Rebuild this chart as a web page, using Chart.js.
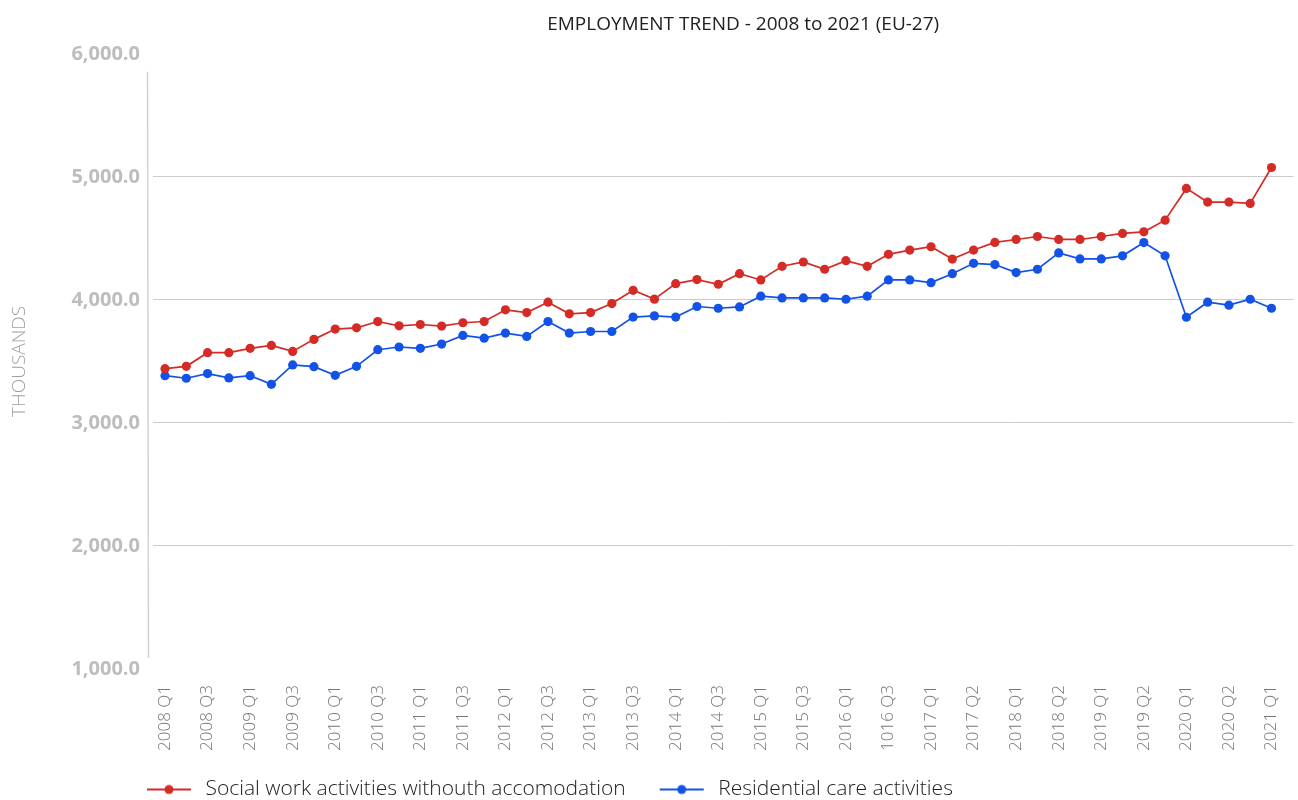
<!DOCTYPE html>
<html>
<head>
<meta charset="utf-8">
<script src="https://cdn.jsdelivr.net/npm/chart.js@4/dist/chart.umd.min.js"></script>
<style>
  html, body { margin: 0; padding: 0; background: #fff; }
  #wrap { width: 1298px; height: 800px; }
</style>
</head>
<body>
<div id="wrap"><canvas id="trendChart"></canvas></div>
<script>
// quarters as they appear in the source (typos kept)
const quarterLabels = [
  '2008 Q1', '2008 Q2', '2008 Q3', '2008 Q4',
  '2009 Q1', '2009 Q2', '2009 Q3', '2009 Q4',
  '2010 Q1', '2010 Q2', '2010 Q3', '2010 Q4',
  '2011 Q1', '2011 Q2', '2011 Q3', '2011 Q4',
  '2012 Q1', '2012 Q2', '2012 Q3', '2012 Q4',
  '2013 Q1', '2013 Q2', '2013 Q3', '2013 Q4',
  '2014 Q1', '2014 Q2', '2014 Q3', '2014 Q4',
  '2015 Q1', '2015 Q2', '2015 Q3', '2015 Q4',
  '2016 Q1', '2016 Q2', '1016 Q3', '2016 Q4',
  '2017 Q1', '2017 Q2', '2017 Q2', '2017 Q4',
  '2018 Q1', '2018 Q2', '2018 Q2', '2018 Q4',
  '2019 Q1', '2019 Q2', '2019 Q2', '2019 Q4',
  '2020 Q1', '2020 Q2', '2020 Q2', '2020 Q4',
  '2021 Q1'
];

const socialWork = [
  3441, 3460, 3571, 3571, 3606, 3630, 3581, 3679, 3763, 3773,
  3824, 3789, 3800, 3787, 3814, 3824, 3919, 3897, 3981, 3887,
  3897, 3970, 4078, 4006, 4132, 4165, 4127, 4213, 4162, 4273,
  4308, 4249, 4319, 4273, 4370, 4405, 4432, 4332, 4405, 4467,
  4491, 4515, 4491, 4491, 4515, 4540, 4553, 4648, 4906, 4795,
  4795, 4784, 5076
];

const residentialCare = [
  3384, 3363, 3401, 3366, 3384, 3314, 3471, 3457, 3387, 3460,
  3595, 3617, 3606, 3641, 3711, 3689, 3730, 3703, 3824, 3730,
  3743, 3743, 3860, 3870, 3860, 3946, 3932, 3943, 4030, 4016,
  4016, 4016, 4005, 4030, 4162, 4162, 4140, 4213, 4297, 4287,
  4222, 4249, 4382, 4333, 4333, 4358, 4466, 4358, 3859, 3981,
  3957, 4005, 3932
];

const yTicks = [1000, 2000, 3000, 4000, 5000, 6000];

const RED = '#d52b26';
const BLUE = '#1252e6';
const FONT = "'Open Sans', 'Noto Sans', sans-serif";

const toPoints = arr => arr.map((v, i) => ({ x: i, y: v }));

// legend marker: short line with a dot in the middle (8px blank on the left)
function legendMarker(color) {
  const c = document.createElement('canvas');
  c.width = 56;
  c.height = 12;
  const g = c.getContext('2d');
  g.strokeStyle = color;
  g.lineWidth = 2;
  g.beginPath();
  g.moveTo(8, 6);
  g.lineTo(52, 6);
  g.stroke();
  g.fillStyle = color;
  g.beginPath();
  g.arc(30, 6, 4.5, 0, Math.PI * 2);
  g.fill();
  return c;
}

// thin left axis rule, a bit shorter than the plot area
const axisRule = {
  id: 'axisRule',
  beforeDatasetsDraw(chart) {
    const { ctx, chartArea } = chart;
    ctx.save();
    ctx.strokeStyle = '#d2d2d2';
    ctx.lineWidth = 1.5;
    ctx.beginPath();
    ctx.moveTo(chartArea.left - 5.5, chartArea.top + 18);
    ctx.lineTo(chartArea.left - 4.5, chartArea.bottom - 11);
    ctx.stroke();
    ctx.restore();
  }
};

// shift title and legend to where the original has them
const nudge = {
  id: 'nudge',
  afterLayout(chart) {
    chart.titleBlock.left += 20;
    chart.titleBlock.right += 20;
    chart.legend.left -= 40;
  }
};

const noSidePadding = scale => {
  scale.paddingLeft = 0;
  scale.paddingRight = 0;
};

const ctx = document.getElementById('trendChart').getContext('2d');
const trendChart = new Chart(ctx, {
  type: 'line',
  data: {
    datasets: [
      {
        label: 'Social work activities withouth accomodation',
        data: toPoints(socialWork),
        borderColor: RED,
        backgroundColor: RED,
        borderWidth: 1.7,
        pointRadius: 4.6,
        pointBorderWidth: 0,
        pointBackgroundColor: RED,
        tension: 0
      },
      {
        label: 'Residential care activities',
        data: toPoints(residentialCare),
        borderColor: BLUE,
        backgroundColor: BLUE,
        borderWidth: 1.7,
        pointRadius: 4.6,
        pointBorderWidth: 0,
        pointBackgroundColor: BLUE,
        tension: 0
      }
    ]
  },
  options: {
    responsive: true,
    maintainAspectRatio: false,
    animation: false,
    layout: { padding: { left: 0, right: 0, top: 0, bottom: -10 } },
    plugins: {
      title: {
        display: true,
        text: 'EMPLOYMENT TREND - 2008 to 2021 (EU-27)',
        fullSize: false,
        color: '#212121',
        font: { family: FONT, size: 19, weight: 'normal' },
        padding: { top: 13, bottom: 18 }
      },
      legend: {
        position: 'bottom',
        align: 'start',
        fullSize: false,
        labels: {
          usePointStyle: true,
          pointStyleWidth: 56,
          padding: 26,
          color: '#222',
          font: { family: FONT, size: 21, weight: 300 },
          generateLabels(chart) {
            const items = Chart.defaults.plugins.legend.labels.generateLabels(chart);
            return items.map(item => {
              const ds = chart.data.datasets[item.datasetIndex];
              item.pointStyle = legendMarker(ds.borderColor);
              return item;
            });
          }
        }
      },
      tooltip: { enabled: false }
    },
    scales: {
      x: {
        type: 'linear',
        min: -0.564,
        max: 53.03,
        grid: { display: false, drawTicks: false },
        border: { display: false },
        afterFit(scale) {
          scale.height = 84;
          noSidePadding(scale);
        },
        afterUpdate: noSidePadding,
        ticks: {
          stepSize: 2,
          includeBounds: false,
          autoSkip: false,
          minRotation: 90,
          maxRotation: 90,
          padding: 16,
          color: '#777',
          font: { family: FONT, size: 17, weight: 300 },
          callback: v => quarterLabels[v] ?? ''
        }
      },
      y: {
        min: yTicks[0],
        max: yTicks[yTicks.length - 1],
        afterFit(scale) { scale.width = 153; },
        border: { display: false },
        grid: {
          drawTicks: false,
          lineWidth: 1,
          color: c => (c.tick && (c.tick.value === yTicks[0] || c.tick.value === yTicks[yTicks.length - 1])) ? 'rgba(0,0,0,0)' : '#cccccc'
        },
        afterBuildTicks(scale) {
          scale.ticks = yTicks.map(v => ({ value: v }));
        },
        ticks: {
          padding: 13,
          color: '#bdbdbd',
          font: { family: FONT, size: 20, weight: 'bold' },
          callback: v => v.toLocaleString('en-US', { minimumFractionDigits: 1, maximumFractionDigits: 1 })
        },
        title: {
          display: true,
          text: 'THOUSANDS',
          color: '#a0a0a0',
          font: { family: FONT, size: 19, weight: 300 },
          padding: { top: 8, bottom: 0 }
        }
      }
    }
  },
  plugins: [axisRule, nudge]
});
</script>
</body>
</html>
